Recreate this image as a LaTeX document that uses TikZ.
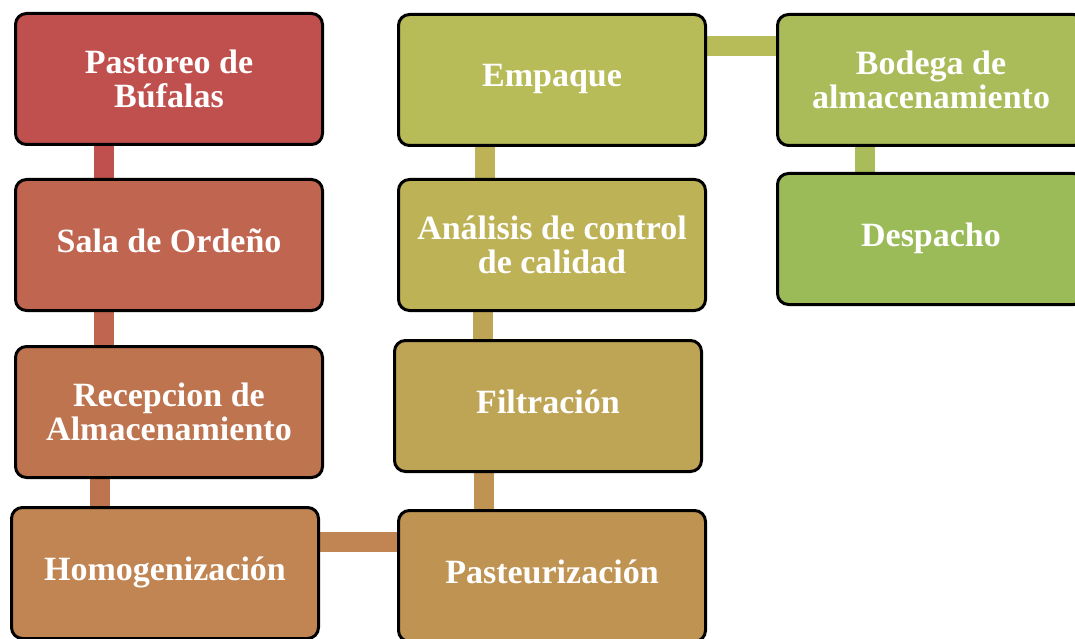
\documentclass[tikz,border=0pt]{standalone}
\usepackage{fontspec}
\setmainfont{Liberation Serif}
\usetikzlibrary{backgrounds}
\definecolor{c1}{RGB}{192,80,77}
\definecolor{c2}{RGB}{192,101,80}
\definecolor{c3}{RGB}{191,116,80}
\definecolor{c4}{RGB}{192,133,82}
\definecolor{c5}{RGB}{191,148,82}
\definecolor{c6}{RGB}{190,164,85}
\definecolor{c7}{RGB}{190,178,86}
\definecolor{c8}{RGB}{183,187,88}
\definecolor{c9}{RGB}{170,187,89}
\definecolor{c10}{RGB}{155,187,89}
\begin{document}
\begin{tikzpicture}[x=1pt,y=-1pt,
  stepbox/.style={draw=black, line width=3pt, rounded corners=11pt, fill=#1,
    minimum width=307pt, minimum height=131pt, inner sep=0pt, text=white,
    align=center, font=\bfseries\fontsize{34}{34}\selectfont},
  link/.style={draw=#1, line width=20pt}]
\newcommand{\lnstrut}{\rule[-9pt]{0pt}{30pt}}
\useasboundingbox (0,0) rectangle (1075,639);
\clip (0,0) rectangle (1075,639);
\node[stepbox=c1] (pas) at (169,79) {Pastoreo de\\Búfalas};
\node[stepbox=c2] (sal) at (169,245) {\lnstrut Sala de Ordeño};
\node[stepbox=c3] (rec) at (169,412) {Recepcion de\\Almacenamiento};
\node[stepbox=c4] (hom) at (165,573) {\lnstrut Homogenización};
\node[stepbox=c5] (pst) at (552,576) {\lnstrut Pasteurización};
\node[stepbox=c6] (fil) at (548,406) {\lnstrut Filtración};
\node[stepbox=c7] (ana) at (552,245) {Análisis de control\\de calidad};
\node[stepbox=c8] (emp) at (552,80) {\lnstrut Empaque};
\node[stepbox=c9] (bod) at (931,80) {Bodega de\\almacenamiento};
\node[stepbox=c10] (des) at (931,239) {\lnstrut Despacho};
\begin{pgfonlayer}{background}
\draw[link=c1] ([xshift=-65pt]pas.south) -- ([xshift=-65pt]sal.north);
\draw[link=c2] ([xshift=-65pt]sal.south) -- ([xshift=-65pt]rec.north);
\draw[link=c3] ([xshift=-69pt]rec.south) -- ([xshift=-65pt]hom.north);
\draw[link=c4] ([yshift=31pt]hom.east) -- ([yshift=34pt]pst.west);
\draw[link=c5] ([xshift=-68pt]pst.north) -- ([xshift=-64pt]fil.south);
\draw[link=c6] ([xshift=-65pt]fil.north) -- ([xshift=-69pt]ana.south);
\draw[link=c7] ([xshift=-67pt]ana.north) -- ([xshift=-67pt]emp.south);
\draw[link=c8] ([yshift=34pt]emp.east) -- ([yshift=34pt]bod.west);
\draw[link=c9] ([xshift=-66pt]bod.south) -- ([xshift=-66pt]des.north);
\end{pgfonlayer}
\end{tikzpicture}
\end{document}
